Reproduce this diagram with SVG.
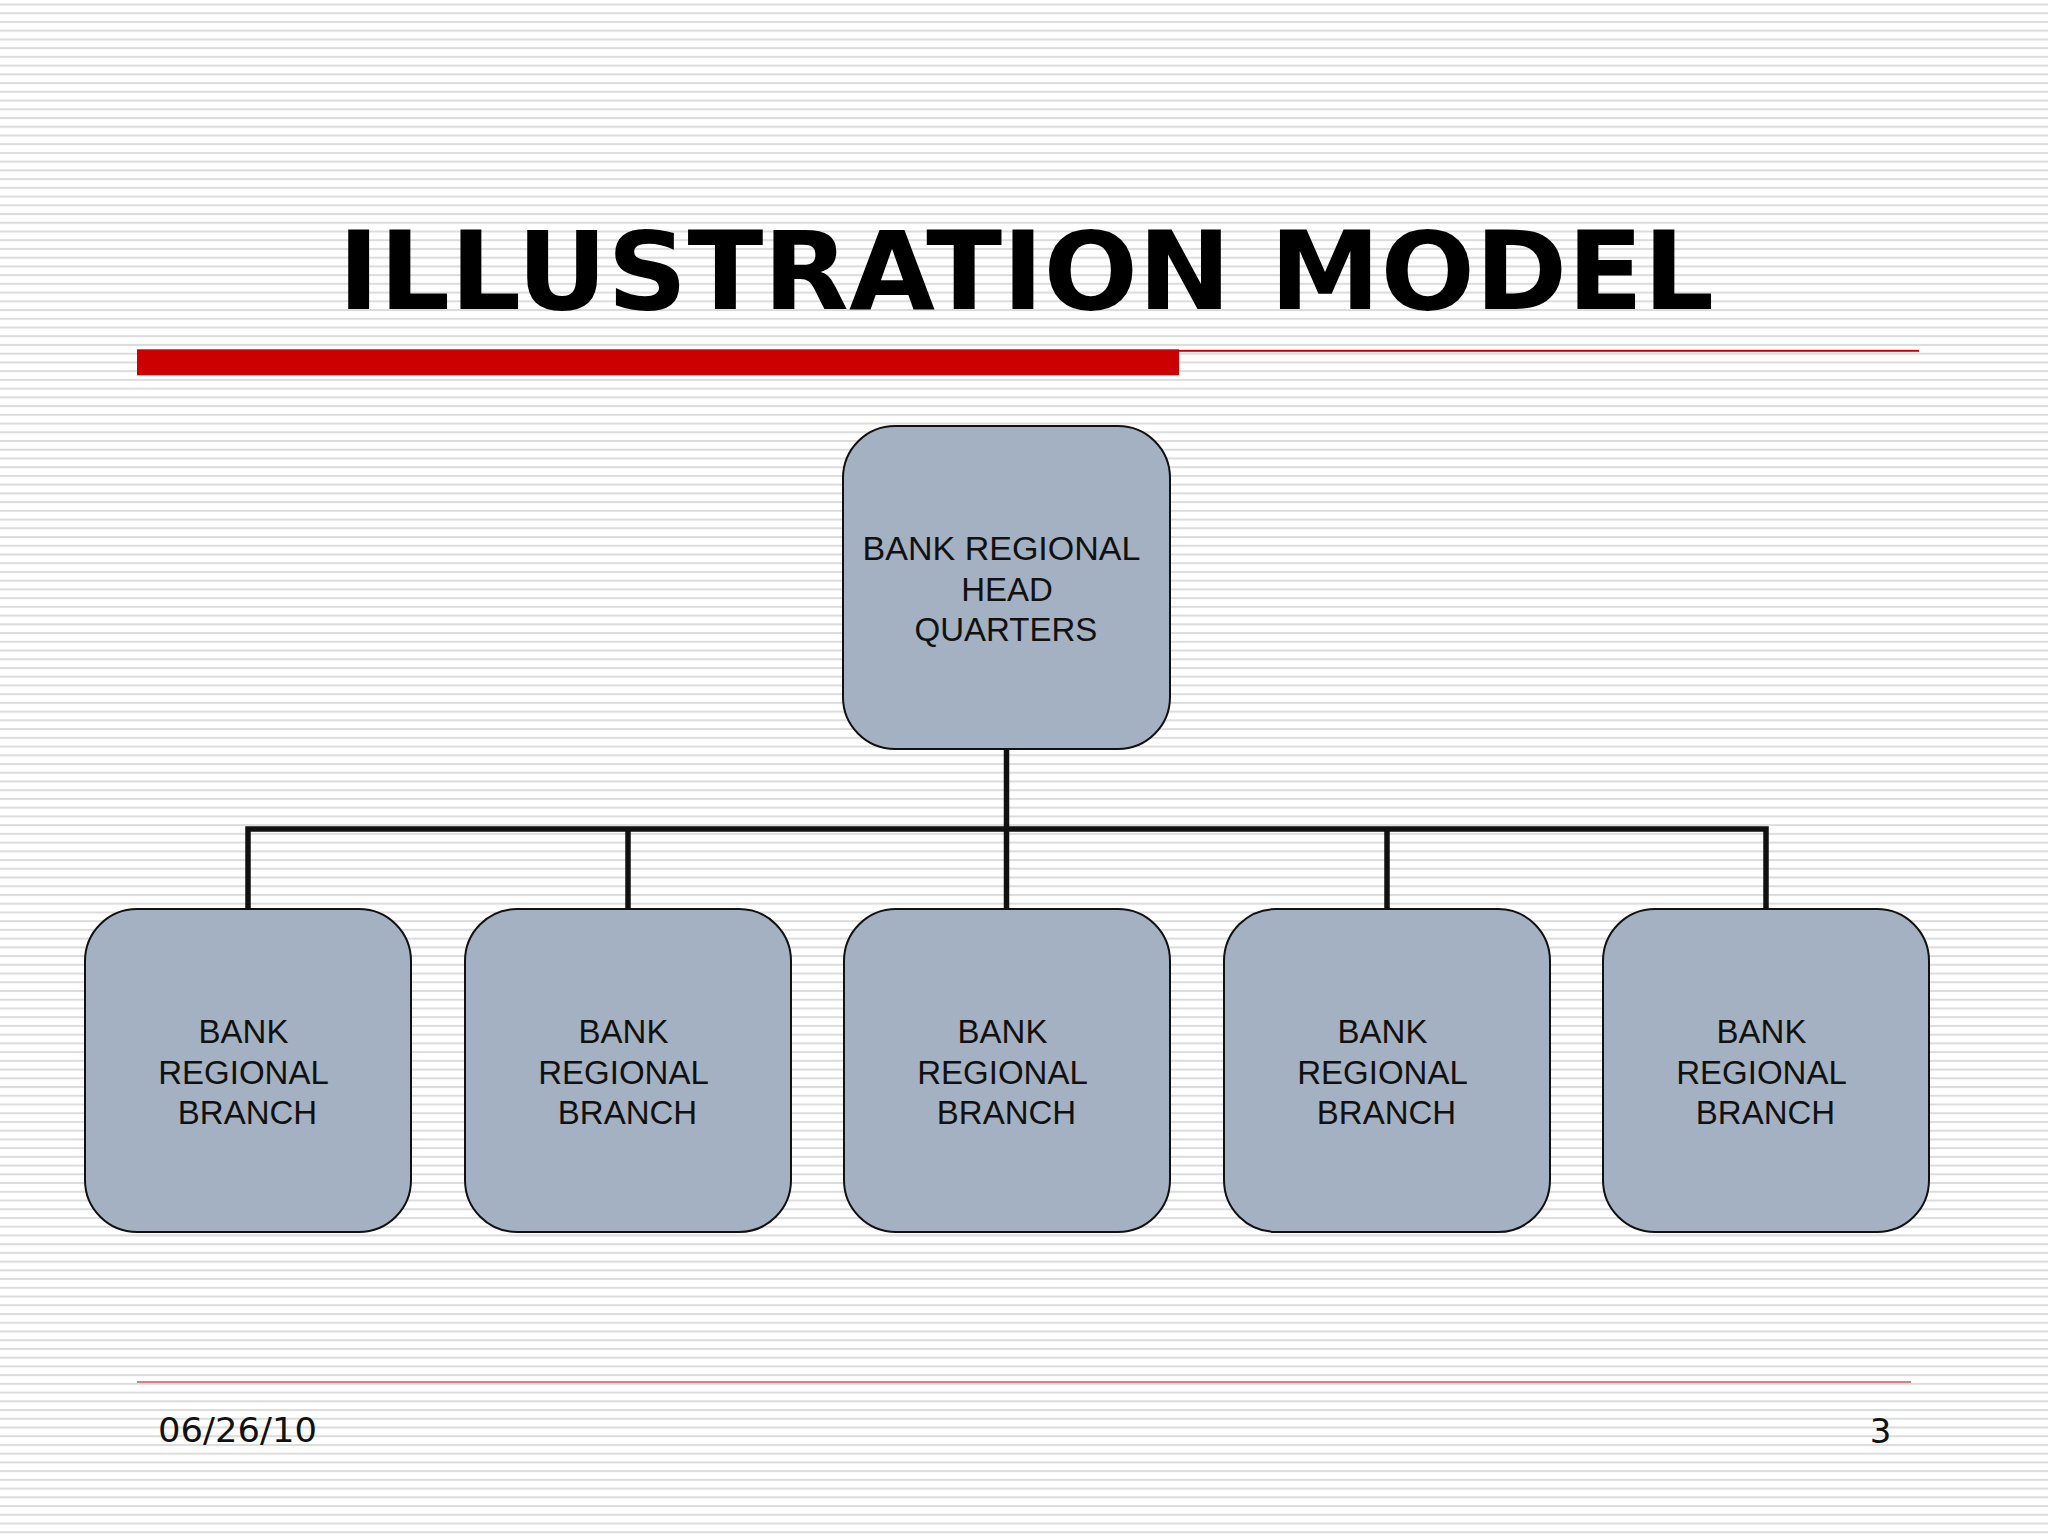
<svg xmlns="http://www.w3.org/2000/svg" width="2048" height="1536" viewBox="0 0 2048 1536">
<defs>
<pattern id="stripes" patternUnits="userSpaceOnUse" x="0" y="3.5" width="2048" height="8.73">
<rect x="0" y="0" width="2048" height="8.73" fill="#ffffff"/>
<rect x="0" y="0" width="2048" height="2" fill="#dcdcdc"/>
</pattern>
<style>
.node rect { fill: #a4b1c2; stroke: #111111; stroke-width: 2; }
.node text { font-family: "Liberation Sans", Arial, sans-serif; font-size: 33px; fill: #111111; text-anchor: middle; }
.conn { fill: none; stroke: #111111; stroke-width: 5.5; stroke-linecap: butt; stroke-linejoin: miter; }
.footer { font-family: "DejaVu Sans", Verdana, sans-serif; font-size: 34px; fill: #111111; }
</style>
</defs>
<rect x="0" y="0" width="2048" height="1536" fill="url(#stripes)"/>

<g id="title">
<text x="1026" y="309" font-family="DejaVu Sans, Verdana, sans-serif" font-weight="bold" font-size="108" text-anchor="middle" fill="#000000" textLength="1376" lengthAdjust="spacingAndGlyphs">ILLUSTRATION MODEL</text>
<rect x="137" y="349.3" width="1042" height="26" fill="#cc0000"/>
<rect x="1179" y="349.8" width="740" height="2" fill="#cc0000"/>
</g>

<g id="connectors">
<path class="conn" d="M1006.5 749 V829"/>
<path class="conn" d="M248 909 V829 H1766 V909"/>
<path class="conn" d="M628 829 V909"/>
<path class="conn" d="M1006.5 829 V909"/>
<path class="conn" d="M1387 829 V909"/>
</g>

<g id="hq" class="node">
<rect x="843" y="426" width="327" height="323" rx="52" ry="52"/>
<text x="1001.5" y="560" textLength="278" lengthAdjust="spacingAndGlyphs">BANK REGIONAL</text>
<text x="1007" y="600.5">HEAD</text>
<text x="1006" y="641">QUARTERS</text>
</g>

<g id="branch1" class="node">
<rect x="85" y="909" width="326" height="323" rx="52" ry="52"/>
<text x="243.5" y="1043">BANK</text>
<text x="243.5" y="1083.5">REGIONAL</text>
<text x="247.5" y="1124">BRANCH</text>
</g>
<g id="branch2" class="node">
<rect x="465" y="909" width="326" height="323" rx="52" ry="52"/>
<text x="623.5" y="1043">BANK</text>
<text x="623.5" y="1083.5">REGIONAL</text>
<text x="627.5" y="1124">BRANCH</text>
</g>
<g id="branch3" class="node">
<rect x="844" y="909" width="326" height="323" rx="52" ry="52"/>
<text x="1002.5" y="1043">BANK</text>
<text x="1002.5" y="1083.5">REGIONAL</text>
<text x="1006.5" y="1124">BRANCH</text>
</g>
<g id="branch4" class="node">
<rect x="1224" y="909" width="326" height="323" rx="52" ry="52"/>
<text x="1382.5" y="1043">BANK</text>
<text x="1382.5" y="1083.5">REGIONAL</text>
<text x="1386.5" y="1124">BRANCH</text>
</g>
<g id="branch5" class="node">
<rect x="1603" y="909" width="326" height="323" rx="52" ry="52"/>
<text x="1761.5" y="1043">BANK</text>
<text x="1761.5" y="1083.5">REGIONAL</text>
<text x="1765.5" y="1124">BRANCH</text>
</g>

<g id="footer">
<rect x="137" y="1381.3" width="1774" height="1.4" fill="#d44a4a"/>
<text class="footer" x="158" y="1442" textLength="159" lengthAdjust="spacingAndGlyphs">06/26/10</text>
<text class="footer" x="1880.5" y="1443" text-anchor="middle">3</text>
</g>
</svg>
